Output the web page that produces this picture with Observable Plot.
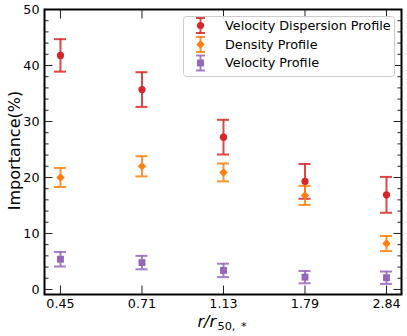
<!DOCTYPE html>
<html><head><meta charset="utf-8">
<script src="https://cdn.jsdelivr.net/npm/d3@7"></script>
<script src="https://cdn.jsdelivr.net/npm/@observablehq/plot@0.6"></script>
<style>
body{margin:0;background:#fff;}
#chart{position:relative;width:407px;height:336px;}
</style>
</head><body><div id="chart"></div>
<script>
// ---- data ----
const categories = ["0.45", "0.71", "1.13", "1.79", "2.84"];
const seriesNames = ["Velocity Dispersion Profile", "Density Profile", "Velocity Profile"];
const velDispValues = [41.8, 35.7, 27.2, 19.3, 16.9];
const velDispErrors = [2.9, 3.1, 3.1, 3.1, 3.2];
const densityValues = [20.0, 22.0, 20.9, 16.8, 8.2];
const densityErrors = [1.7, 1.8, 1.6, 1.7, 1.35];
const velocityValues = [5.4, 4.8, 3.4, 2.2, 2.1];
const velocityErrors = [1.3, 1.2, 1.2, 1.1, 1.1];
const yMajorTicks = [0, 10, 20, 30, 40, 50];
const yMinorTicks = [2, 4, 6, 8, 12, 14, 16, 18, 22, 24, 26, 28, 32, 34, 36, 38, 42, 44, 46, 48];
const xLabel = "r/r";
const xLabelSub = "50,\u2002*";
const yLabel = "Importance(%)";

// ---- styling ----
const colors = ["#d62728", "#ff7f0e", "#9467bd"];
const symbols = ["circle", "diamond2", "square"];
const radii = [3.6, 3.8, 3.9];

const seriesValues = [velDispValues, densityValues, velocityValues];
const seriesErrors = [velDispErrors, densityErrors, velocityErrors];
const tables = seriesNames.map((name, s) =>
  categories.map((c, i) => ({i, cat: c, series: name, value: seriesValues[s][i], err: seriesErrors[s][i]}))
);
const capHalf = 0.074;

const marks = [];
tables.forEach((rows, s) => {
  const st = {stroke: colors[s], strokeWidth: 2, strokeOpacity: 0.85};
  marks.push(Plot.ruleX(rows, {x: "i", y1: d => d.value - d.err, y2: d => d.value + d.err, ...st}));
  marks.push(Plot.ruleY(rows, {y: d => d.value + d.err, x1: d => d.i - capHalf, x2: d => d.i + capHalf, ...st}));
  marks.push(Plot.ruleY(rows, {y: d => d.value - d.err, x1: d => d.i - capHalf, x2: d => d.i + capHalf, ...st}));
  marks.push(Plot.dot(rows, {x: "i", y: "value", symbol: () => symbols[s], r: radii[s], fill: colors[s], stroke: "none"}));
});

const idx = categories.map((c, i) => i);
const tickStyle = {stroke: "#222", strokeWidth: 1};
const empty = () => "";

const plot = Plot.plot({
  width: 407,
  height: 336,
  marginLeft: 44,
  marginRight: 6,
  marginTop: 9,
  marginBottom: 42,
  style: {fontFamily: "DejaVu Sans", fontSize: "12.7px", color: "black", background: "white"},
  x: {type: "linear", domain: [-0.196, 4.184]},
  y: {domain: [-0.9, 50]},
  symbol: {type: "identity"},
  marks: [
    // labels
    Plot.axisX({anchor: "bottom", ticks: idx, tickFormat: i => categories[i], tickSize: 0, tickPadding: 4, label: null, fontSize: 12.7}),
    Plot.axisY({anchor: "left", ticks: yMajorTicks, tickSize: 0, tickPadding: 5, label: null, fontSize: 12.7}),
    // inward ticks
    Plot.axisX({anchor: "bottom", ticks: idx, tickSize: 8.5, dy: -8.5, tickFormat: empty, label: null, ...tickStyle}),
    Plot.axisX({anchor: "top", ticks: idx, tickSize: 8.5, dy: 8.5, tickFormat: empty, label: null, ...tickStyle}),
    Plot.axisY({anchor: "left", ticks: yMajorTicks, tickSize: 8.5, dx: 8.5, tickFormat: empty, label: null, ...tickStyle}),
    Plot.axisY({anchor: "left", ticks: yMinorTicks, tickSize: 4.5, dx: 4.5, tickFormat: empty, label: null, ...tickStyle}),
    Plot.axisY({anchor: "right", ticks: yMajorTicks, tickSize: 8.5, dx: -8.5, tickFormat: empty, label: null, ...tickStyle}),
    Plot.axisY({anchor: "right", ticks: yMinorTicks, tickSize: 4.5, dx: -4.5, tickFormat: empty, label: null, ...tickStyle}),
    ...marks,
    Plot.frame({stroke: "black", strokeWidth: 2}),
    // axis titles
    Plot.text([yLabel], {text: d => d, frameAnchor: "left", dx: -25, dy: -1.5, rotate: -90, textAnchor: "middle", lineAnchor: "bottom", fontSize: 16, fill: "black"}),
    Plot.text([xLabel], {text: d => d, frameAnchor: "bottom", dx: -7, dy: 32, textAnchor: "end", lineAnchor: "bottom", fontSize: 16, fontStyle: "italic", fill: "black"}),
    Plot.text([xLabelSub], {text: d => d, frameAnchor: "bottom", dx: -5.5, dy: 35, textAnchor: "start", lineAnchor: "bottom", fontSize: 11.3, fill: "black"})
  ]
});

// ---- legend (inside the plot, upper right) ----
const svg = d3.select(plot);
const lg = svg.append("g").attr("font-family", "DejaVu Sans").attr("font-size", 12.8).attr("text-anchor", "start");
lg.append("rect").attr("x", 183.5).attr("y", 16.5).attr("width", 211).attr("height", 60).attr("rx", 3)
  .attr("fill", "white").attr("fill-opacity", 0.8).attr("stroke", "#cccccc").attr("stroke-width", 1);
const symMap = {circle: d3.symbolCircle, diamond2: d3.symbolDiamond2, square: d3.symbolSquare};
const rowsY = [25.5, 44.5, 63];
seriesNames.forEach((name, s) => {
  const cy = rowsY[s], cx = 200.5;
  const g = lg.append("g").attr("stroke", colors[s]).attr("stroke-width", 2).attr("stroke-opacity", 0.85);
  g.append("line").attr("x1", cx).attr("x2", cx).attr("y1", cy - 7.5).attr("y2", cy + 7.5);
  g.append("line").attr("x1", cx - 4.5).attr("x2", cx + 4.5).attr("y1", cy - 7.5).attr("y2", cy - 7.5);
  g.append("line").attr("x1", cx - 4.5).attr("x2", cx + 4.5).attr("y1", cy + 7.5).attr("y2", cy + 7.5);
  lg.append("path").attr("transform", `translate(${cx},${cy})`)
    .attr("d", d3.symbol(symMap[symbols[s]], Math.PI * radii[s] * radii[s])())
    .attr("fill", colors[s]);
  lg.append("text").attr("x", 225).attr("y", cy).attr("dy", "0.35em").attr("text-anchor", "start")
    .attr("fill", "black").text(name);
});

document.getElementById("chart").appendChild(plot);
</script>
</body></html>
